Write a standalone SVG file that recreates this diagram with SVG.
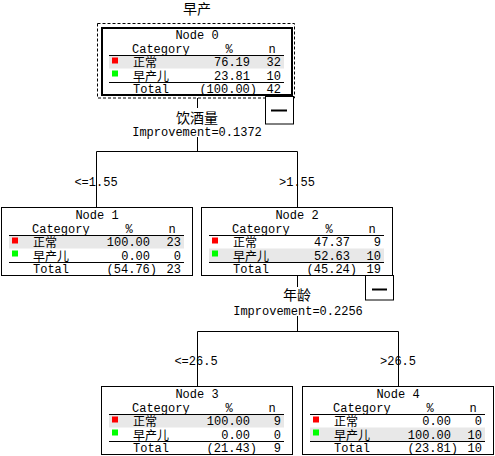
<svg xmlns="http://www.w3.org/2000/svg" width="495" height="456" viewBox="0 0 495 456">
<style>
.t{font-family:"Liberation Mono","Noto Sans CJK SC",monospace;font-size:12px;fill:#000}
.c{font-family:"Noto Sans CJK SC",sans-serif;font-size:12px;fill:#000}
.l{font-family:"Noto Sans CJK SC",sans-serif;font-size:14px;fill:#000;text-anchor:middle}
.m{text-anchor:middle}
.e{text-anchor:end}
.box{fill:#fff;stroke:#000;stroke-width:1}
.box0{fill:#fff;stroke:#000;stroke-width:2}
.hl{fill:#e8e8e8}
.rl{stroke:#000;stroke-width:1}
.red{fill:#ff0000}
.grn{fill:#00ff00}
.cn{fill:none;stroke:#000;stroke-width:1}
.col{fill:#fff;stroke:#000;stroke-width:1}
.dash{stroke:#000;stroke-width:2}
</style>
<rect width="495" height="456" fill="#fff"/>
<g id="connectors">
<path class="cn" d="M197.5,98 V108 M197.5,137 V151.5 M96.5,151.5 H297.5 M96.5,151.5 V207 M297.5,151.5 V207"/>
<path class="cn" d="M297.5,276 V287 M297.5,316 V331.5 M197.5,331.5 H398.5 M197.5,331.5 V386 M398.5,331.5 V386"/>
<text class="l" x="197" y="14">早产</text>
<text class="l" x="197" y="122.5">饮酒量</text>
<text class="t m" x="197" y="135.5">Improvement=0.1372</text>
<text class="t m" x="96" y="186">&lt;=1.55</text>
<text class="t m" x="297" y="186">&gt;1.55</text>
<text class="l" x="297" y="300">年龄</text>
<text class="t m" x="298" y="315">Improvement=0.2256</text>
<text class="t m" x="196" y="365">&lt;=26.5</text>
<text class="t m" x="398" y="365">&gt;26.5</text>
</g>
<g id="node0">
<rect x="97.5" y="23.5" width="197" height="74.5" fill="none" stroke="#000" stroke-width="1" stroke-dasharray="3,2"/>
<g transform="translate(101,27)">
<rect class="box0" x="1" y="1" width="190" height="67"/>
<text class="t m" x="96" y="12">Node 0</text>
<text class="t" x="31" y="26">Category</text>
<text class="t m" x="128" y="26">%</text>
<text class="t m" x="171" y="26">n</text>
<rect class="hl" x="8" y="28.5" width="175" height="13"/>
<line class="rl" x1="8" y1="28.5" x2="183" y2="28.5"/>
<rect class="red" x="11" y="30.5" width="6" height="6"/>
<text class="c" x="32" y="40">正常</text>
<text class="t e" x="149" y="39">76.19</text>
<text class="t e" x="180" y="39">32</text>
<rect class="grn" x="11" y="43.5" width="6" height="6"/>
<text class="c" x="32" y="53.5">早产儿</text>
<text class="t e" x="149" y="52.5">23.81</text>
<text class="t e" x="180" y="52.5">10</text>
<line class="rl" x1="8" y1="55.5" x2="183" y2="55.5"/>
<text class="t" x="32" y="66">Total</text>
<text class="t e" x="156" y="66">(100.00)</text>
<text class="t e" x="180" y="66">42</text>
</g>
<rect class="col" x="265.5" y="96.5" width="28" height="27.5"/>
<line class="dash" x1="271" y1="110.5" x2="287" y2="110.5"/>
</g>
<g id="node1" transform="translate(1,207)">
<rect class="box" x="0.5" y="0.5" width="191" height="68"/>
<text class="t m" x="96" y="12">Node 1</text>
<text class="t" x="31" y="26">Category</text>
<text class="t m" x="128" y="26">%</text>
<text class="t m" x="171" y="26">n</text>
<rect class="hl" x="8" y="28.5" width="175" height="13"/>
<line class="rl" x1="8" y1="28.5" x2="183" y2="28.5"/>
<rect class="red" x="11" y="30.5" width="6" height="6"/>
<text class="c" x="32" y="40">正常</text>
<text class="t e" x="149" y="39">100.00</text>
<text class="t e" x="180" y="39">23</text>
<rect class="grn" x="11" y="43.5" width="6" height="6"/>
<text class="c" x="32" y="53.5">早产儿</text>
<text class="t e" x="149" y="52.5">0.00</text>
<text class="t e" x="180" y="52.5">0</text>
<line class="rl" x1="8" y1="55.5" x2="183" y2="55.5"/>
<text class="t" x="32" y="66">Total</text>
<text class="t e" x="156" y="66">(54.76)</text>
<text class="t e" x="180" y="66">23</text>
</g>
<g id="node2">
<g transform="translate(201,207)">
<rect class="box" x="0.5" y="0.5" width="191" height="68"/>
<text class="t m" x="96" y="12">Node 2</text>
<text class="t" x="31" y="26">Category</text>
<text class="t m" x="128" y="26">%</text>
<text class="t m" x="171" y="26">n</text>
<rect class="hl" x="8" y="41.5" width="175" height="13.5"/>
<line class="rl" x1="8" y1="28.5" x2="183" y2="28.5"/>
<rect class="red" x="11" y="30.5" width="6" height="6"/>
<text class="c" x="32" y="40">正常</text>
<text class="t e" x="149" y="39">47.37</text>
<text class="t e" x="180" y="39">9</text>
<rect class="grn" x="11" y="43.5" width="6" height="6"/>
<text class="c" x="32" y="53.5">早产儿</text>
<text class="t e" x="149" y="52.5">52.63</text>
<text class="t e" x="180" y="52.5">10</text>
<line class="rl" x1="8" y1="55.5" x2="183" y2="55.5"/>
<text class="t" x="32" y="66">Total</text>
<text class="t e" x="156" y="66">(45.24)</text>
<text class="t e" x="180" y="66">19</text>
</g>
<rect class="col" x="365.5" y="275.5" width="28" height="24.5"/>
<line class="dash" x1="372" y1="289.5" x2="387" y2="289.5"/>
</g>
<g id="node3" transform="translate(101,386)">
<rect class="box" x="0.5" y="0.5" width="191" height="68"/>
<text class="t m" x="96" y="12">Node 3</text>
<text class="t" x="31" y="26">Category</text>
<text class="t m" x="128" y="26">%</text>
<text class="t m" x="171" y="26">n</text>
<rect class="hl" x="8" y="28.5" width="175" height="13"/>
<line class="rl" x1="8" y1="28.5" x2="183" y2="28.5"/>
<rect class="red" x="11" y="30.5" width="6" height="6"/>
<text class="c" x="32" y="40">正常</text>
<text class="t e" x="149" y="39">100.00</text>
<text class="t e" x="180" y="39">9</text>
<rect class="grn" x="11" y="43.5" width="6" height="6"/>
<text class="c" x="32" y="53.5">早产儿</text>
<text class="t e" x="149" y="52.5">0.00</text>
<text class="t e" x="180" y="52.5">0</text>
<line class="rl" x1="8" y1="55.5" x2="183" y2="55.5"/>
<text class="t" x="32" y="66">Total</text>
<text class="t e" x="156" y="66">(21.43)</text>
<text class="t e" x="180" y="66">9</text>
</g>
<g id="node4" transform="translate(302,386)">
<rect class="box" x="0.5" y="0.5" width="191" height="68"/>
<text class="t m" x="96" y="12">Node 4</text>
<text class="t" x="31" y="26">Category</text>
<text class="t m" x="128" y="26">%</text>
<text class="t m" x="171" y="26">n</text>
<rect class="hl" x="8" y="41.5" width="175" height="13.5"/>
<line class="rl" x1="8" y1="28.5" x2="183" y2="28.5"/>
<rect class="red" x="11" y="30.5" width="6" height="6"/>
<text class="c" x="32" y="40">正常</text>
<text class="t e" x="149" y="39">0.00</text>
<text class="t e" x="180" y="39">0</text>
<rect class="grn" x="11" y="43.5" width="6" height="6"/>
<text class="c" x="32" y="53.5">早产儿</text>
<text class="t e" x="149" y="52.5">100.00</text>
<text class="t e" x="180" y="52.5">10</text>
<line class="rl" x1="8" y1="55.5" x2="183" y2="55.5"/>
<text class="t" x="32" y="66">Total</text>
<text class="t e" x="156" y="66">(23.81)</text>
<text class="t e" x="180" y="66">10</text>
</g>
</svg>
